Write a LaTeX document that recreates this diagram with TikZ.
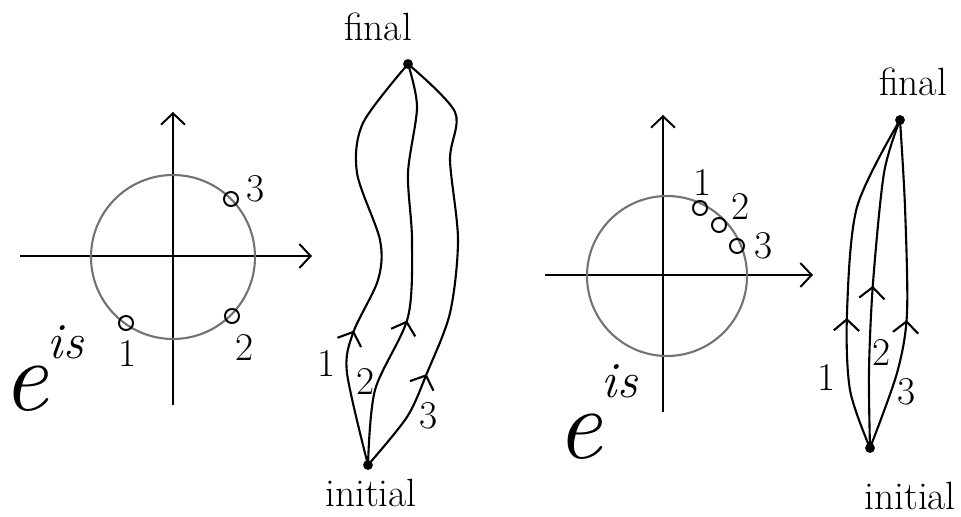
\documentclass[tikz,border=0pt]{standalone}
\usepackage{tikz}
\usetikzlibrary{arrows.meta,decorations.markings}
% e with its exponent: #1 shift of the exponent, #2 its raise
\newcommand{\expis}[2]{e\kern#1\raisebox{#2}{\fontsize{36}{36}\selectfont is}}

\tikzset{
  axis/.style={line width=1.4pt, -{Straight Barb[length=8pt,width=17pt]}},
  unitcirc/.style={line width=1.5pt, black!55},
  dotnode/.style={circle, fill, inner sep=0pt, minimum size=7pt},
  ring/.style={circle, draw, line width=1.4pt, inner sep=0pt, minimum size=10pt},
  lbl/.style={inner sep=0pt, font=\fontsize{28}{28}\selectfont},
  word/.style={inner sep=0pt, font=\fontsize{28}{28}\selectfont},
  expr/.style={inner sep=0pt, anchor=base west, font=\fontsize{72}{72}\selectfont\itshape},
  route/.style={line width=1.5pt, postaction={decorate, decoration={markings,
    mark=at position #1 with {\arrow{Straight Barb[length=8pt,width=18pt]}}}}},
}

\begin{document}
\begin{tikzpicture}[x=0.025cm, y=-0.025cm]
\useasboundingbox (0,0) rectangle (961,517);
% left: three points spread round the circle
\coordinate (oa) at (173,257);
\draw[axis] (173,405) -- (173,112);
\draw[axis] (20,256) -- (312,256);
\draw[unitcirc] (oa) circle[radius=82];
\node[ring] (ra1) at (126,323) {};
\node[ring] (ra2) at (232,316) {};
\node[ring] (ra3) at (231,199) {};
\node[lbl] (na1) at (128,353) {1};
\node[lbl] (na2) at (245,347) {2};
\node[lbl] (na3) at (256,189) {3};
\node[expr] (ea) at (2,411) {\expis{0pt}{37pt}};
% left: the paths they give
\node[dotnode] (inia) at (368,465) {};
\node[dotnode] (fina) at (408,64) {};
\node[word] (tfina) at (378,27) {final};
\node[word] (tinia) at (371,493) {initial};
\draw[route=0.32] plot[smooth] coordinates {(inia.center) (347,373) (353,333) (378,280) (380,240) (357,173) (363,123) (fina.center)};
\draw[route=0.37] plot[smooth] coordinates {(inia.center) (375,390) (408,317) (412,240) (408,173) (417,107) (fina.center)};
\draw[route=0.245] plot[smooth] coordinates {(inia.center) (407,417) (427,373) (450,313) (458,240) (450,160) (455,112) (fina.center)};
\node[lbl] (pa1) at (327,363) {1};
\node[lbl] (pa2) at (366,381) {2};
\node[lbl] (pa3) at (429,416) {3};
% right: three points close together
\coordinate (ob) at (667,276);
\draw[axis] (663,412) -- (663,115);
\draw[axis] (545,275) -- (813,275);
\draw[unitcirc] (ob) circle[radius=80];
\node[ring] (rb1) at (700,208) {};
\node[ring] (rb2) at (719,225) {};
\node[ring] (rb3) at (737,246) {};
\node[lbl] (nb1) at (703,182) {1};
\node[lbl] (nb2) at (741,206) {2};
\node[lbl] (nb3) at (764,246) {3};
\node[expr] (eb) at (556,459) {\expis{0pt}{44pt}};
% right: the paths they give
\node[dotnode] (inib) at (870,448) {};
\node[dotnode] (finb) at (900,120) {};
\node[word] (tfinb) at (913,82) {final};
\node[word] (tinib) at (910,496) {initial};
\draw[route=0.39] plot[smooth] coordinates {(inib.center) (850,390) (847,313) (857,207) (finb.center)};
\draw[route=0.49] plot[smooth] coordinates {(inib.center) (869,370) (873,283) (884,173) (finb.center)};
\draw[route=0.40] plot[smooth] coordinates {(inib.center) (897,373) (907,313) (905,207) (finb.center)};
\node[lbl] (pb1) at (827,377) {1};
\node[lbl] (pb2) at (882,352) {2};
\node[lbl] (pb3) at (907,392) {3};
\end{tikzpicture}
\end{document}
